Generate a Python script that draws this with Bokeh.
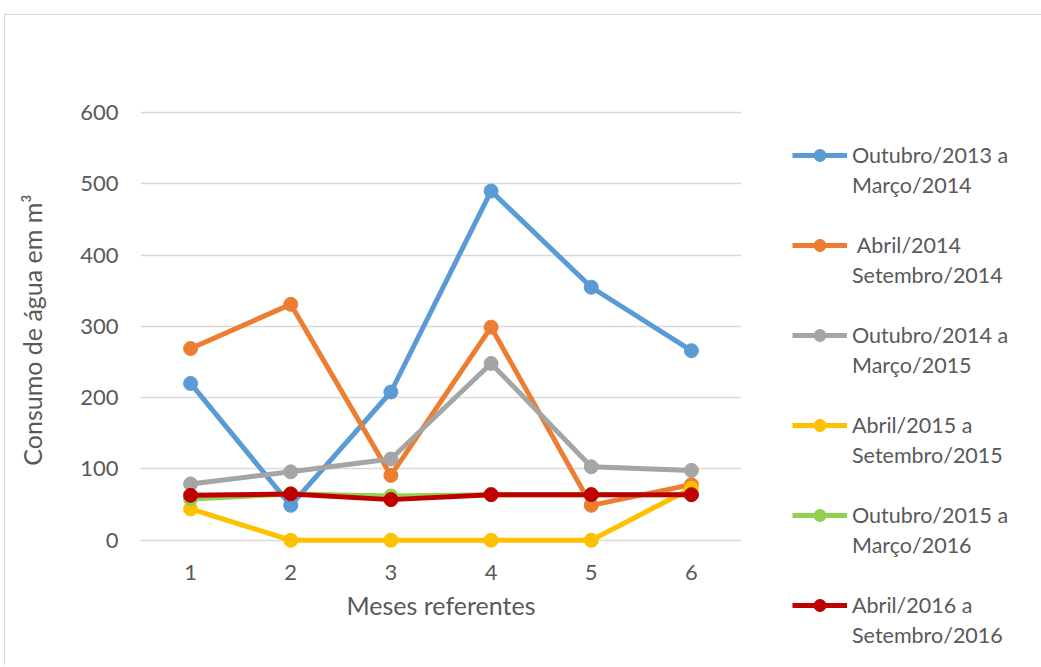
from bokeh.plotting import figure
from bokeh.models import Range1d, FixedTicker, ColumnDataSource, Legend, LegendItem
from bokeh.embed import file_html
from bokeh.resources import INLINE

meses = [1, 2, 3, 4, 5, 6]
label_line1 = ["Outubro/2013 a", " Abril/2014", "Outubro/2014 a",
               "Abril/2015 a", "Outubro/2015 a", "Abril/2016 a"]
label_line2 = ["Março/2014", "Setembro/2014", "Março/2015",
               "Setembro/2015", "Março/2016", "Setembro/2016"]
out13_mar14 = [220, 49, 208, 490, 355, 266]
abr14_set14 = [269, 331, 91, 299, 49, 78]
out14_mar15 = [79, 96, 114, 248, 103, 98]
abr15_set15 = [44, 0, 0, 0, 0, 73]
out15_mar16 = [58, 65, 62, 64, 64, 64]
abr16_set16 = [63, 65, 57, 64, 64, 64]
colors = ["#5B9BD5", "#ED7D31", "#A5A5A5", "#FFC000", "#92D050", "#C00000"]
series = [out13_mar14, abr14_set14, out14_mar15, abr15_set15, out15_mar16, abr16_set16]
y_ticks = [0, 100, 200, 300, 400, 500, 600]

FONT = "Lato"
TXT = "#595959"

p = figure(width=1035, height=650, output_backend="svg", toolbar_location=None,
           x_range=Range1d(0.5, 6.5), y_range=Range1d(-20, 610),
           min_border_left=135, min_border_top=90, min_border_right=299, min_border_bottom=111,
           frame_width=601, frame_height=449)
p.outline_line_color = None
p.background_fill_color = "white"
p.border_fill_color = "white"
p.margin = (14, 0, 0, 4)
p.styles = {"border-top": "1px solid #D9D9D9", "border-left": "1px solid #D9D9D9"}

items = []
dummy = p.scatter([], [], size=1, fill_alpha=0, line_alpha=0)
for i, (vals, c, l1, l2) in enumerate(zip(series, colors, label_line1, label_line2)):
    src = ColumnDataSource(dict(x=meses, y=vals))
    r1 = p.line("x", "y", source=src, line_color=c, line_width=5)
    r2 = p.scatter("x", "y", source=src, size=14, fill_color=c, line_color=c)
    items.append(LegendItem(label=l1, renderers=[r1, r2]))
    items.append(LegendItem(label=l2, renderers=[dummy]))
    if i < len(series) - 1:
        items.append(LegendItem(label=" ", renderers=[dummy]))

legend = Legend(items=items, location=(51, -96), orientation="vertical",
                glyph_width=55, glyph_height=30, label_height=30, spacing=0,
                label_standoff=5, padding=0, margin=0,
                border_line_color=None, background_fill_alpha=0,
                label_text_font=FONT, label_text_font_size="21.5px",
                label_text_color=TXT)
p.add_layout(legend, "right")

p.xgrid.grid_line_color = None
p.ygrid.grid_line_color = "#D9D9D9"
p.ygrid.grid_line_width = 1.5
p.yaxis.ticker = FixedTicker(ticks=y_ticks)
p.xaxis.ticker = FixedTicker(ticks=meses)
for ax in (p.xaxis[0], p.yaxis[0]):
    ax.axis_line_color = None
    ax.major_tick_line_color = None
    ax.minor_tick_line_color = None
    ax.major_label_text_font = FONT
    ax.major_label_text_font_size = "22px"
    ax.major_label_text_color = TXT
    ax.axis_label_text_font = FONT
    ax.axis_label_text_font_size = "25px"
    ax.axis_label_text_color = TXT
    ax.axis_label_text_font_style = "normal"
p.xaxis.axis_label = "Meses referentes"
p.yaxis.axis_label = "Consumo de água em m³"
p.xaxis.major_label_standoff = 4
p.xaxis.axis_label_standoff = 7
p.yaxis.major_label_standoff = 16
p.yaxis.axis_label_standoff = 30

open("out.html", "w").write(file_html(p, INLINE))
